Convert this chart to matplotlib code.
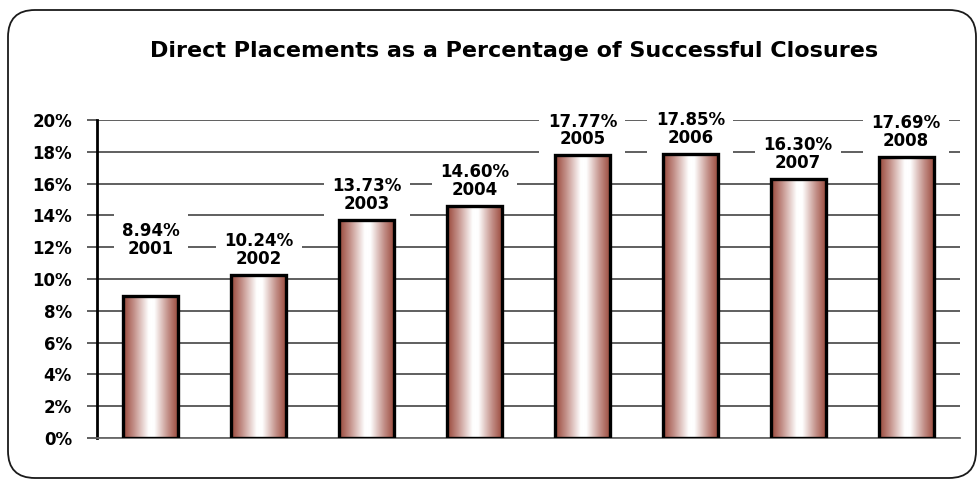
import numpy as np
import matplotlib
matplotlib.use("Agg")
import matplotlib.pyplot as plt
from matplotlib.patches import FancyBboxPatch
from matplotlib.colors import LinearSegmentedColormap
from matplotlib.ticker import MultipleLocator, FuncFormatter

# Data
years = ["2001", "2002", "2003", "2004", "2005", "2006", "2007", "2008"]
pct = [8.94, 10.24, 13.73, 14.60, 17.77, 17.85, 16.30, 17.69]
# extra lift (in percentage points) for labels that sit higher above their bar
label_lift = [1.95, 0, 0, 0, 0, 0, 0, 0]

title = "Direct Placements as a Percentage of Successful Closures"

plt.rcParams["font.family"] = ["DejaVu Sans"]

W, H = 980, 480
fig = plt.figure(figsize=(W / 100, H / 100), dpi=100)

# rounded frame around the whole chart, drawn in pixel units
bg = fig.add_axes([0, 0, 1, 1])
bg.set_xlim(0, W)
bg.set_ylim(H, 0)
bg.axis("off")
bg.add_patch(FancyBboxPatch((8, 10), 968, 468,
                            boxstyle="round,pad=0,rounding_size=27",
                            fc="white", ec="#1a1a1a", lw=1.3))

fig.text(514 / W, 1 - 51 / H, title, ha="center", va="center",
         fontsize=16, fontweight="bold", color="black")

ax = fig.add_axes([97 / W, 42 / H, 863 / W, 318 / H])
ax.set_zorder(1)
ax.patch.set_visible(False)

x = np.arange(len(years))
bar_w = 0.51
# bar bodies (used as clip shapes for the shading)
bodies = ax.bar(x, pct, width=bar_w, facecolor="none", edgecolor="none",
                zorder=2)

edge = "#984638"
cmap = LinearSegmentedColormap.from_list(
    "cyl", [(0.0, edge), (0.2, "#c4928b"), (0.46, "white"),
            (0.56, "white"), (0.8, "#c4928b"), (1.0, edge)])
grad = np.linspace(0, 1, 256).reshape(1, -1)
for rect in bodies:
    x0, w, h = rect.get_x(), rect.get_width(), rect.get_height()
    im = ax.imshow(grad, extent=[x0, x0 + w, 0, h], cmap=cmap,
                   aspect="auto", zorder=2.5, interpolation="bicubic")
    im.set_clip_path(rect)

# black outlines on top of the shading
ax.bar(x, pct, width=bar_w, facecolor="none", edgecolor="black",
       linewidth=2.4, zorder=4)

ax.set_xlim(-0.5, len(years) - 0.5)
ax.set_ylim(0, 20)

# value / year labels; their white boxes mask the gridlines but sit under the bars
for xi, v, yr, lift in zip(x, pct, years, label_lift):
    ax.text(xi, v + 0.45 + lift, f"{v:.2f}%\n{yr}", ha="center", va="bottom",
            fontsize=12, fontweight="bold", linespacing=0.98, zorder=2,
            bbox=dict(boxstyle="square,pad=0.5", fc="white", ec="none"))

ax.yaxis.set_major_locator(MultipleLocator(2))
ax.yaxis.set_major_formatter(FuncFormatter(lambda v, p: f"{v:.0f}%"))
ax.yaxis.grid(True, color="#444444", linewidth=1.2, zorder=1)
ax.set_axisbelow(True)
ax.tick_params(axis="y", direction="out", length=7, width=1.2,
               color="#444444", pad=11, labelsize=12)
for lbl in ax.get_yticklabels():
    lbl.set_fontweight("bold")
ax.tick_params(axis="x", bottom=False, labelbottom=False)

for s in ("top", "right"):
    ax.spines[s].set_visible(False)
ax.spines["left"].set_color("black")
ax.spines["left"].set_linewidth(2)
ax.spines["bottom"].set_color("#6a6a6a")
ax.spines["bottom"].set_linewidth(1.3)

fig.savefig("out.png", dpi=100)
